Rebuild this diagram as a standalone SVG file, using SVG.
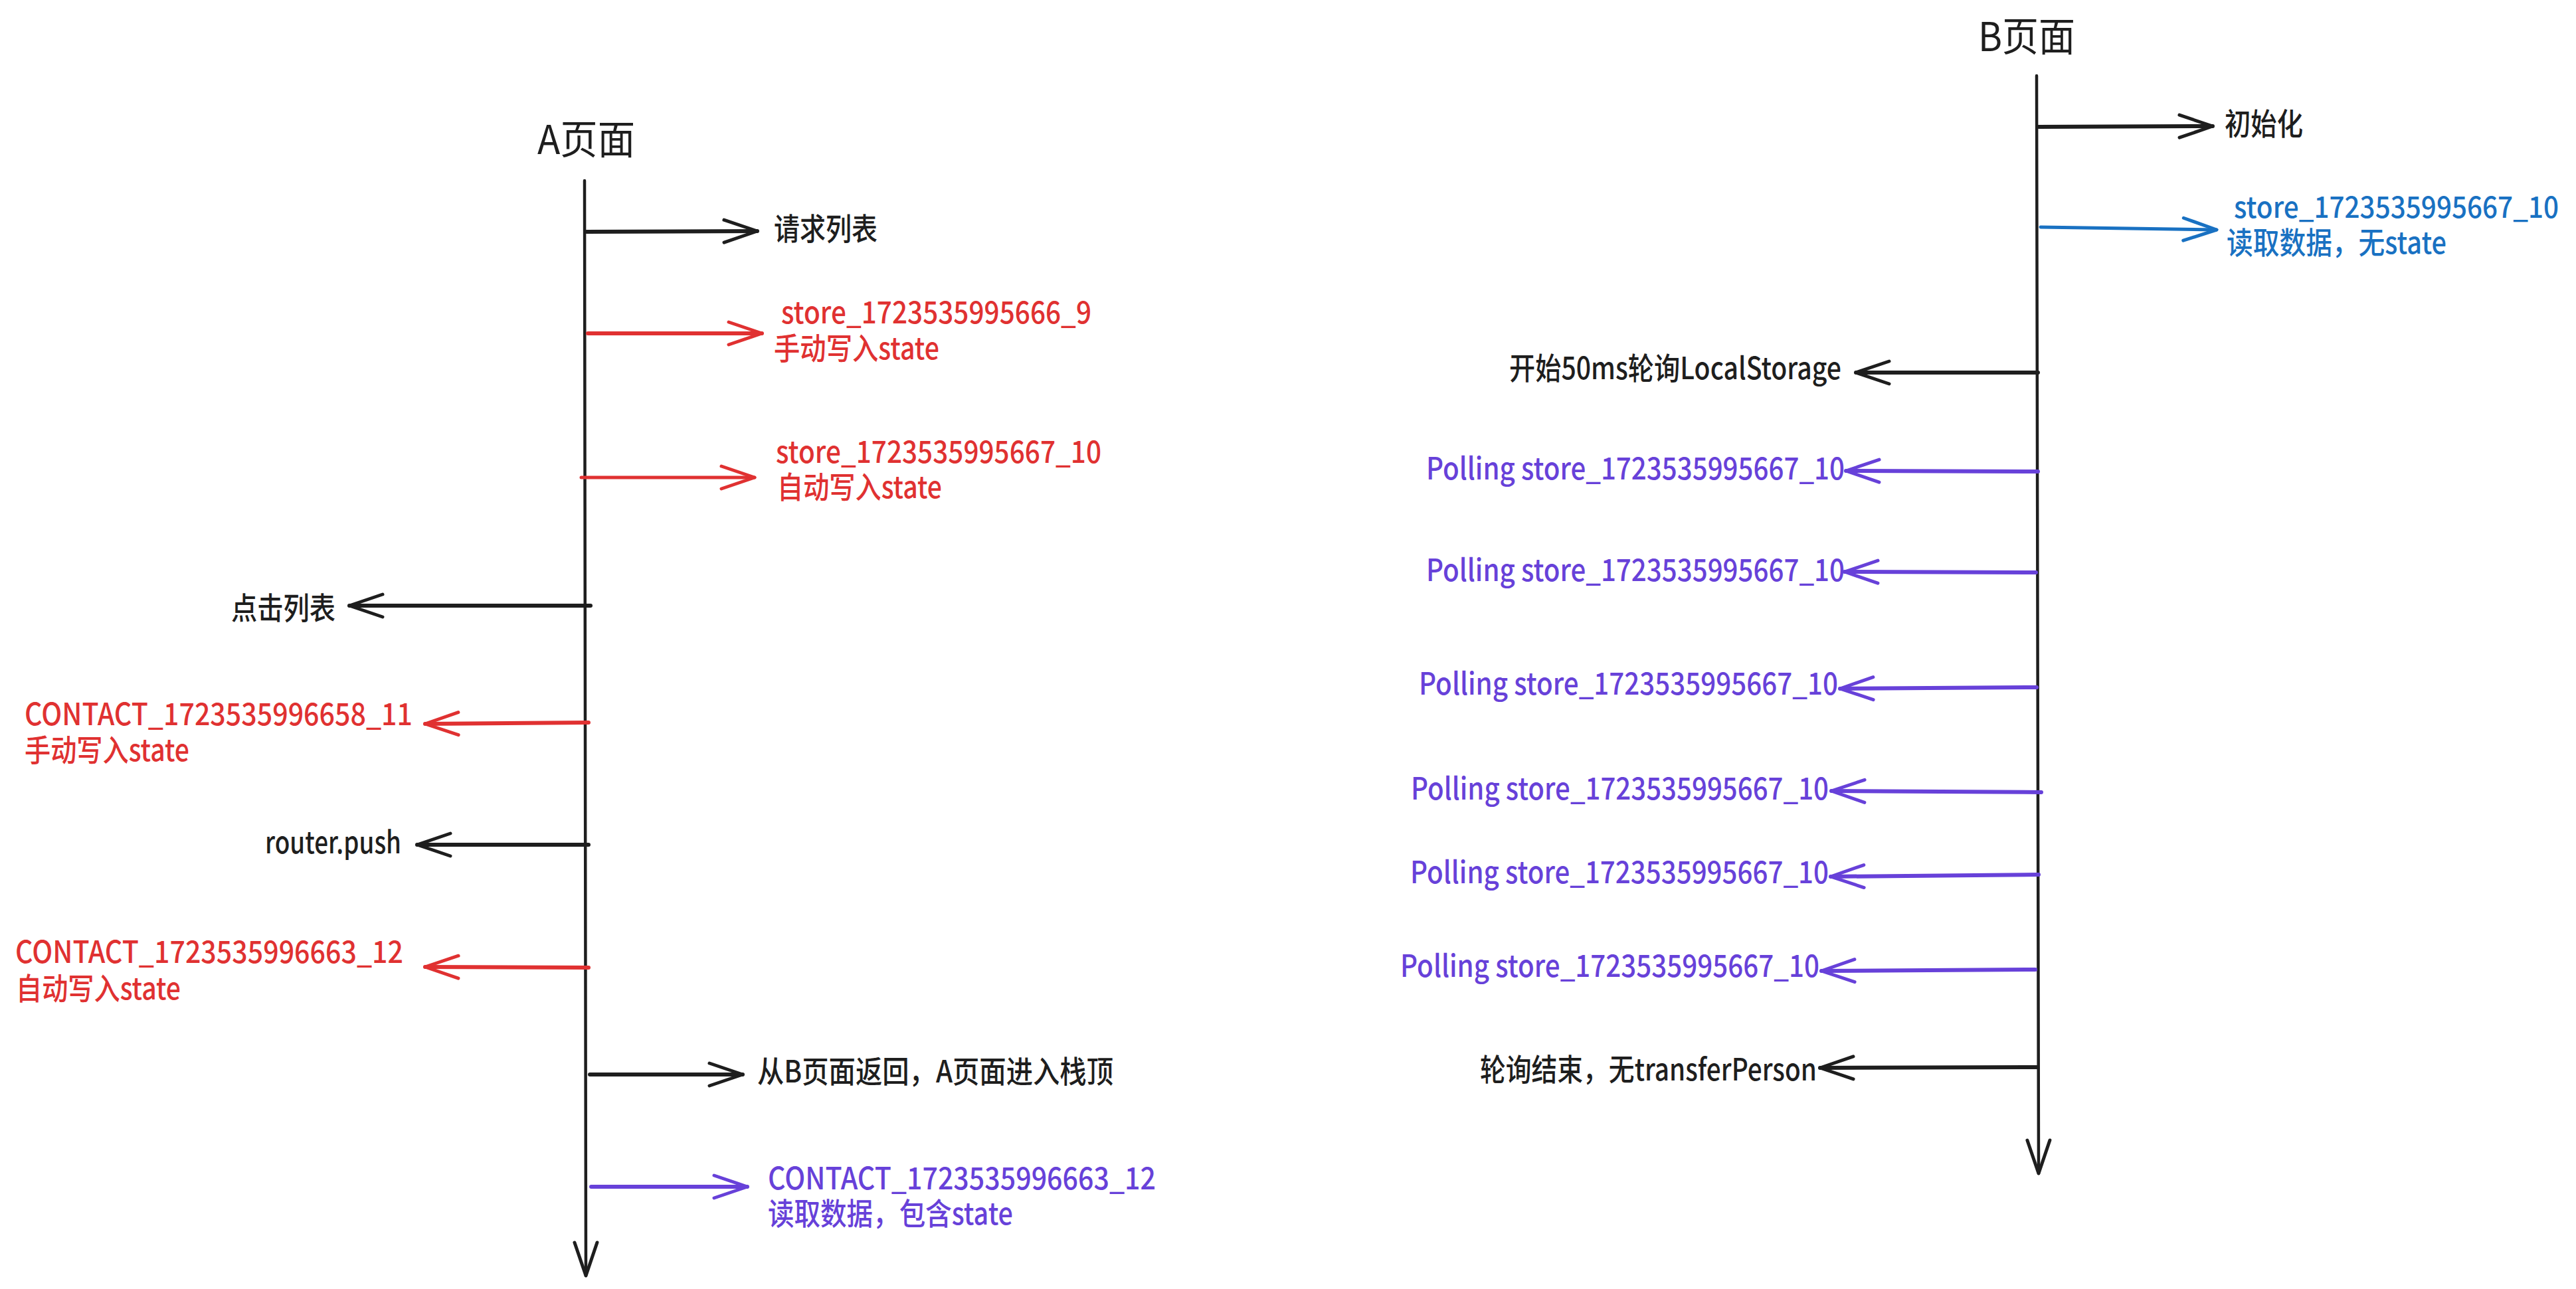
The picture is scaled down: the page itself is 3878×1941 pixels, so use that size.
<svg xmlns="http://www.w3.org/2000/svg" width="3878" height="1941" viewBox="0 0 3878 1941">
<style>
text{font-family:"Noto Sans CJK SC","Noto Sans",sans-serif;font-size:46px;font-weight:500;}
.t{font-size:60px;font-weight:400;}
.k{fill:#1e1e1e;}
.r{fill:#e03131;}
.p{fill:#6741d9;}
.b{fill:#1971c2;}
line{fill:none;stroke-linecap:round;}
.lk{stroke:#1e1e1e;stroke-width:6;marker-end:url(#mk);}
.lr{stroke:#e03131;stroke-width:6;marker-end:url(#mr);}
.lp{stroke:#6741d9;stroke-width:6;marker-end:url(#mp);}
.lb{stroke:#1971c2;stroke-width:5;marker-end:url(#mb);}
.life{stroke:#1e1e1e;stroke-width:4.5;marker-end:url(#mk);}
</style>
<defs>
<marker id="mk" markerUnits="userSpaceOnUse" viewBox="-60 -25 70 50" markerWidth="70" markerHeight="50" refX="0" refY="0" orient="auto" overflow="visible"><path d="M-50,-17 L0,0 L-50,17" fill="none" stroke="#1e1e1e" stroke-width="5" stroke-linecap="round" stroke-linejoin="round"/></marker>
<marker id="mr" markerUnits="userSpaceOnUse" viewBox="-60 -25 70 50" markerWidth="70" markerHeight="50" refX="0" refY="0" orient="auto" overflow="visible"><path d="M-50,-17 L0,0 L-50,17" fill="none" stroke="#e03131" stroke-width="5" stroke-linecap="round" stroke-linejoin="round"/></marker>
<marker id="mp" markerUnits="userSpaceOnUse" viewBox="-60 -25 70 50" markerWidth="70" markerHeight="50" refX="0" refY="0" orient="auto" overflow="visible"><path d="M-50,-17 L0,0 L-50,17" fill="none" stroke="#6741d9" stroke-width="5" stroke-linecap="round" stroke-linejoin="round"/></marker>
<marker id="mb" markerUnits="userSpaceOnUse" viewBox="-60 -25 70 50" markerWidth="70" markerHeight="50" refX="0" refY="0" orient="auto" overflow="visible"><path d="M-50,-17 L0,0 L-50,17" fill="none" stroke="#1971c2" stroke-width="5" stroke-linecap="round" stroke-linejoin="round"/></marker>
</defs>
<rect width="3878" height="1941" fill="#ffffff"/>

<g id="connectors">
<line class="life" x1="880" y1="272" x2="882" y2="1921"/>
<line class="life" x1="3066" y1="114" x2="3069" y2="1767"/>
<line class="lk" x1="883" y1="349" x2="1140" y2="348"/>
<line class="lr" x1="885" y1="502" x2="1147" y2="502"/>
<line class="lr" x1="875" y1="719" x2="1136" y2="719" style="stroke-width:5"/>
<line class="lk" x1="889" y1="912" x2="526" y2="912"/>
<line class="lr" x1="886" y1="1088" x2="640" y2="1090"/>
<line class="lk" x1="886" y1="1272" x2="628" y2="1272"/>
<line class="lr" x1="886" y1="1457" x2="640" y2="1456"/>
<line class="lk" x1="888" y1="1618" x2="1118" y2="1618"/>
<line class="lp" x1="890" y1="1787" x2="1125" y2="1787"/>
<line class="lk" x1="3069" y1="191" x2="3331" y2="190"/>
<line class="lb" x1="3072" y1="342" x2="3337" y2="346"/>
<line class="lk" x1="3068" y1="561" x2="2794" y2="561"/>
<line class="lp" x1="3068" y1="710" x2="2779" y2="709"/>
<line class="lp" x1="3065" y1="862" x2="2777" y2="861"/>
<line class="lp" x1="3066" y1="1035" x2="2770" y2="1037"/>
<line class="lp" x1="3073" y1="1193" x2="2757" y2="1191"/>
<line class="lp" x1="3069" y1="1317" x2="2756" y2="1320"/>
<line class="lp" x1="3064" y1="1460" x2="2742" y2="1462"/>
<line class="lk" x1="3067" y1="1607" x2="2740" y2="1608"/>
</g>

<g id="title-a"><text class="t k" x="809" y="232" textLength="147" lengthAdjust="spacingAndGlyphs">A页面</text></g>
<g id="title-b"><text class="t k" x="2978" y="77" textLength="146" lengthAdjust="spacingAndGlyphs">B页面</text></g>

<g id="a-request-list"><text class="k" x="1165" y="361" textLength="156" lengthAdjust="spacingAndGlyphs">请求列表</text></g>
<g id="a-store-9"><text class="r"><tspan x="1176" y="487" textLength="467" lengthAdjust="spacingAndGlyphs">store_1723535995666_9</tspan><tspan x="1165" y="541" textLength="249" lengthAdjust="spacingAndGlyphs">手动写入state</tspan></text></g>
<g id="a-store-10"><text class="r"><tspan x="1168" y="697" textLength="490" lengthAdjust="spacingAndGlyphs">store_1723535995667_10</tspan><tspan x="1170" y="750" textLength="248" lengthAdjust="spacingAndGlyphs">自动写入state</tspan></text></g>
<g id="a-click-list"><text class="k" x="348" y="932" textLength="157" lengthAdjust="spacingAndGlyphs">点击列表</text></g>
<g id="a-contact-11"><text class="r"><tspan x="37" y="1092" textLength="584" lengthAdjust="spacingAndGlyphs">CONTACT_1723535996658_11</tspan><tspan x="37" y="1146" textLength="248" lengthAdjust="spacingAndGlyphs">手动写入state</tspan></text></g>
<g id="a-router-push"><text class="k" x="399" y="1285" textLength="205" lengthAdjust="spacingAndGlyphs">router.push</text></g>
<g id="a-contact-12"><text class="r"><tspan x="23" y="1450" textLength="584" lengthAdjust="spacingAndGlyphs">CONTACT_1723535996663_12</tspan><tspan x="24" y="1505" textLength="248" lengthAdjust="spacingAndGlyphs">自动写入state</tspan></text></g>
<g id="a-return"><text class="k" x="1140" y="1630" textLength="536" lengthAdjust="spacingAndGlyphs">从B页面返回，A页面进入栈顶</text></g>
<g id="a-read-contact"><text class="p"><tspan x="1156" y="1791" textLength="584" lengthAdjust="spacingAndGlyphs">CONTACT_1723535996663_12</tspan><tspan x="1156" y="1844" textLength="369" lengthAdjust="spacingAndGlyphs">读取数据，包含state</tspan></text></g>

<g id="b-init"><text class="k" x="3349" y="203" textLength="118" lengthAdjust="spacingAndGlyphs">初始化</text></g>
<g id="b-read-store"><text class="b"><tspan x="3363" y="328" textLength="489" lengthAdjust="spacingAndGlyphs" style="font-size:44px">store_1723535995667_10</tspan><tspan x="3352" y="382" textLength="331" lengthAdjust="spacingAndGlyphs">读取数据，无state</tspan></text></g>
<g id="b-start-polling"><text class="k" x="2272" y="571" textLength="500" lengthAdjust="spacingAndGlyphs">开始50ms轮询LocalStorage</text></g>
<g id="b-polling-1"><text class="p" x="2147" y="722" textLength="630" lengthAdjust="spacingAndGlyphs">Polling store_1723535995667_10</text></g>
<g id="b-polling-2"><text class="p" x="2147" y="875" textLength="630" lengthAdjust="spacingAndGlyphs">Polling store_1723535995667_10</text></g>
<g id="b-polling-3"><text class="p" x="2136" y="1046" textLength="631" lengthAdjust="spacingAndGlyphs">Polling store_1723535995667_10</text></g>
<g id="b-polling-4"><text class="p" x="2124" y="1204" textLength="629" lengthAdjust="spacingAndGlyphs">Polling store_1723535995667_10</text></g>
<g id="b-polling-5"><text class="p" x="2123" y="1330" textLength="630" lengthAdjust="spacingAndGlyphs">Polling store_1723535995667_10</text></g>
<g id="b-polling-6"><text class="p" x="2108" y="1471" textLength="631" lengthAdjust="spacingAndGlyphs">Polling store_1723535995667_10</text></g>
<g id="b-polling-end"><text class="k" x="2228" y="1627" textLength="507" lengthAdjust="spacingAndGlyphs">轮询结束，无transferPerson</text></g>
</svg>
